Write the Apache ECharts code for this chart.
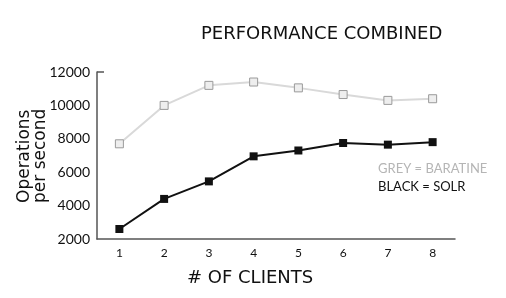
<!DOCTYPE html>
<html>
<head>
<meta charset="utf-8">
<script src="https://cdn.jsdelivr.net/npm/echarts@6/dist/echarts.min.js"></script>
<style>
  html, body { margin: 0; padding: 0; background: #fff; }
  #chart { width: 506px; height: 298px; }
</style>
</head>
<body>
<div id="chart"></div>
<script>
// categories = number of clients
const clients = ['1', '2', '3', '4', '5', '6', '7', '8']
// operations per second
const baratine = [7700, 10000, 11200, 11400, 11050, 10650, 10300, 10400]
const solr = [2600, 4400, 5450, 6950, 7300, 7750, 7650, 7800]

const chart = echarts.init(document.getElementById('chart'))

const option = {
  animation: false,
  title: {
    text: 'PERFORMANCE COMBINED',
    left: 196,
    top: 20,
    textStyle: { fontFamily: 'DejaVu Sans', fontSize: 18, fontWeight: 'normal', color: '#111' }
  },
  grid: { left: 97, right: 51, top: 72, bottom: 59 },
  legend: {
    orient: 'vertical',
    left: 368,
    top: 157,
    icon: 'none',
    itemGap: 4,
    itemWidth: 0,
    formatter: name => name === 'BARATINE' ? 'GREY = BARATINE' : 'BLACK = SOLR',
    data: [
      { name: 'BARATINE', textStyle: { color: '#b5b5b5' } },
      { name: 'SOLR', textStyle: { color: '#111' } }
    ],
    textStyle: { fontFamily: 'Lato', fontSize: 13 }
  },
  xAxis: {
    type: 'category',
    data: clients,
    boundaryGap: true,
    axisLine: { lineStyle: { color: '#555', width: 1.5 } },
    axisTick: { inside: true, length: 4, lineStyle: { color: '#555' } },
    axisLabel: { color: '#111', fontFamily: 'Lato', fontSize: 12, margin: 8 }
  },
  yAxis: {
    type: 'value',
    min: 2000,
    max: 12000,
    interval: 2000,
    splitLine: { show: false },
    axisLine: { show: true, lineStyle: { color: '#555', width: 1.5 } },
    axisTick: { show: false },
    axisLabel: {
      color: '#111', fontFamily: 'Lato', fontSize: 14, margin: 7,
      formatter: v => String(v)
    }
  },
  graphic: [
    {
      type: 'text',
      left: 187,
      top: 269,
      style: { text: '# OF CLIENTS', fontFamily: 'DejaVu Sans', fontSize: 18, fill: '#111' }
    },
    {
      type: 'text',
      x: 17,
      y: 203,
      rotation: Math.PI / 2,
      style: {
        text: 'Operations\nper second',
        fontFamily: 'DejaVu Sans',
        fontSize: 17,
        lineHeight: 16,
        fill: '#111',
        align: 'left',
        verticalAlign: 'top'
      }
    },
    {
      type: 'line',
      shape: { x1: 97, y1: 72, x2: 104, y2: 72 },
      style: { stroke: '#555', lineWidth: 1.5 }
    }
  ],
  series: [
    {
      name: 'BARATINE',
      type: 'line',
      data: baratine,
      symbol: 'rect',
      symbolSize: 8,
      lineStyle: { color: '#d9d9d9', width: 2 },
      itemStyle: { color: '#eeeeee', borderColor: '#9a9a9a', borderWidth: 1 }
    },
    {
      name: 'SOLR',
      type: 'line',
      data: solr,
      symbol: 'rect',
      symbolSize: 8,
      lineStyle: { color: '#111', width: 2 },
      itemStyle: { color: '#111' }
    }
  ]
}

chart.setOption(option)
</script>
</body>
</html>
